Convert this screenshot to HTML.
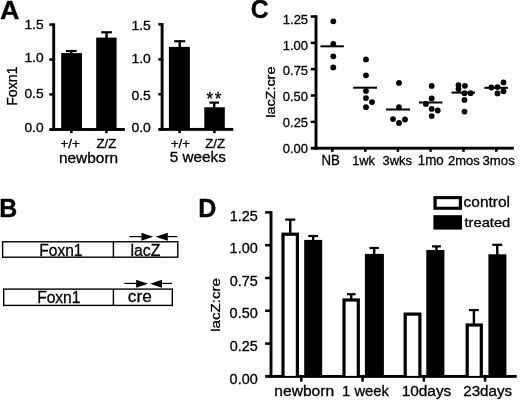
<!DOCTYPE html>
<html><head><meta charset="utf-8"><style>
html,body{margin:0;padding:0;background:#fff;width:520px;height:401px;overflow:hidden}
svg{display:block;will-change:transform}
text{font-family:"Liberation Sans",sans-serif;fill:#000;stroke:#000;stroke-width:0.3px}
</style></head><body>
<svg width="520" height="401" viewBox="0 0 520 401">
<rect width="520" height="401" fill="#fff"/>
<rect x="52.25" y="23.35" width="2.90" height="107.60" fill="#000"/>
<rect x="49.30" y="23.35" width="4.40" height="2.50" fill="#000"/>
<rect x="49.30" y="58.25" width="4.40" height="2.50" fill="#000"/>
<rect x="49.30" y="93.15" width="4.40" height="2.50" fill="#000"/>
<rect x="49.30" y="128.05" width="75.50" height="2.90" fill="#000"/>
<rect x="70.15" y="129.50" width="2.50" height="3.70" fill="#000"/>
<rect x="105.15" y="129.50" width="2.50" height="3.70" fill="#000"/>
<rect x="61.20" y="53.10" width="20.80" height="76.40" fill="#000"/>
<rect x="70.10" y="51.00" width="2.40" height="3.10" fill="#000"/>
<rect x="66.00" y="49.90" width="10.60" height="2.20" fill="#000"/>
<rect x="96.20" y="37.60" width="20.40" height="91.90" fill="#000"/>
<rect x="105.35" y="32.30" width="2.40" height="6.30" fill="#000"/>
<rect x="101.20" y="31.20" width="10.70" height="2.20" fill="#000"/>
<rect x="160.65" y="23.05" width="2.90" height="107.80" fill="#000"/>
<rect x="158.30" y="23.05" width="3.80" height="2.50" fill="#000"/>
<rect x="158.30" y="58.15" width="3.80" height="2.50" fill="#000"/>
<rect x="158.30" y="93.05" width="3.80" height="2.50" fill="#000"/>
<rect x="158.30" y="127.95" width="74.90" height="2.90" fill="#000"/>
<rect x="178.35" y="129.40" width="2.50" height="3.80" fill="#000"/>
<rect x="213.15" y="129.40" width="2.50" height="3.80" fill="#000"/>
<rect x="168.90" y="46.90" width="21.00" height="82.50" fill="#000"/>
<rect x="178.50" y="41.25" width="2.40" height="6.65" fill="#000"/>
<rect x="174.20" y="40.15" width="11.00" height="2.20" fill="#000"/>
<rect x="204.30" y="107.30" width="20.50" height="22.10" fill="#000"/>
<rect x="213.00" y="102.60" width="2.40" height="5.70" fill="#000"/>
<rect x="209.40" y="101.50" width="9.60" height="2.20" fill="#000"/>
<rect x="314.55" y="15.25" width="2.90" height="134.40" fill="#000"/>
<rect x="310.70" y="15.25" width="5.30" height="2.50" fill="#000"/>
<rect x="310.70" y="41.59" width="5.30" height="2.50" fill="#000"/>
<rect x="310.70" y="67.93" width="5.30" height="2.50" fill="#000"/>
<rect x="310.70" y="94.27" width="5.30" height="2.50" fill="#000"/>
<rect x="310.70" y="120.61" width="5.30" height="2.50" fill="#000"/>
<rect x="310.70" y="146.75" width="203.10" height="2.90" fill="#000"/>
<rect x="331.05" y="148.20" width="2.50" height="3.60" fill="#000"/>
<rect x="364.05" y="148.20" width="2.50" height="3.60" fill="#000"/>
<rect x="396.65" y="148.20" width="2.50" height="3.60" fill="#000"/>
<rect x="429.35" y="148.20" width="2.50" height="3.60" fill="#000"/>
<rect x="462.25" y="148.20" width="2.50" height="3.60" fill="#000"/>
<rect x="495.05" y="148.20" width="2.50" height="3.60" fill="#000"/>
<rect x="320.40" y="45.30" width="23.40" height="2.00" fill="#000"/>
<rect x="353.20" y="86.70" width="23.80" height="2.00" fill="#000"/>
<rect x="386.00" y="108.50" width="24.00" height="2.00" fill="#000"/>
<rect x="418.90" y="101.50" width="23.50" height="2.00" fill="#000"/>
<rect x="451.50" y="91.60" width="23.40" height="2.00" fill="#000"/>
<rect x="484.30" y="86.80" width="23.70" height="2.00" fill="#000"/>
<circle cx="333.30" cy="21.30" r="2.90" fill="#000"/>
<circle cx="333.30" cy="44.00" r="2.90" fill="#000"/>
<circle cx="333.30" cy="56.30" r="2.90" fill="#000"/>
<circle cx="333.30" cy="67.40" r="2.90" fill="#000"/>
<circle cx="366.00" cy="59.40" r="2.90" fill="#000"/>
<circle cx="366.00" cy="75.30" r="2.90" fill="#000"/>
<circle cx="366.00" cy="90.90" r="2.90" fill="#000"/>
<circle cx="366.00" cy="98.10" r="2.90" fill="#000"/>
<circle cx="366.00" cy="107.20" r="2.90" fill="#000"/>
<circle cx="372.00" cy="102.10" r="2.90" fill="#000"/>
<circle cx="399.00" cy="82.90" r="2.90" fill="#000"/>
<circle cx="399.00" cy="107.10" r="2.90" fill="#000"/>
<circle cx="399.00" cy="123.00" r="2.90" fill="#000"/>
<circle cx="393.00" cy="119.10" r="2.90" fill="#000"/>
<circle cx="405.00" cy="119.50" r="2.90" fill="#000"/>
<circle cx="431.70" cy="85.90" r="2.90" fill="#000"/>
<circle cx="431.70" cy="98.50" r="2.90" fill="#000"/>
<circle cx="431.70" cy="108.90" r="2.90" fill="#000"/>
<circle cx="431.70" cy="116.10" r="2.90" fill="#000"/>
<circle cx="425.90" cy="103.90" r="2.90" fill="#000"/>
<circle cx="437.70" cy="110.50" r="2.90" fill="#000"/>
<circle cx="458.50" cy="85.10" r="2.90" fill="#000"/>
<circle cx="464.90" cy="85.80" r="2.90" fill="#000"/>
<circle cx="458.50" cy="89.10" r="2.90" fill="#000"/>
<circle cx="464.50" cy="93.20" r="2.90" fill="#000"/>
<circle cx="470.60" cy="93.20" r="2.90" fill="#000"/>
<circle cx="464.50" cy="99.90" r="2.90" fill="#000"/>
<circle cx="464.50" cy="111.60" r="2.90" fill="#000"/>
<circle cx="491.40" cy="87.50" r="2.90" fill="#000"/>
<circle cx="497.50" cy="87.10" r="2.90" fill="#000"/>
<circle cx="503.50" cy="82.40" r="2.90" fill="#000"/>
<circle cx="503.50" cy="91.20" r="2.90" fill="#000"/>
<circle cx="497.50" cy="93.40" r="2.90" fill="#000"/>
<rect x="2.60" y="241.80" width="175.20" height="15.40" fill="none" stroke="#000" stroke-width="1.4"/>
<rect x="112.70" y="241.80" width="1.40" height="15.40" fill="#000"/>
<rect x="129.40" y="236.00" width="12.00" height="1.20" fill="#000"/>
<rect x="167.80" y="236.00" width="9.40" height="1.20" fill="#000"/>
<polygon points="141.40,232.85 153.20,236.85 141.40,240.85" fill="#000"/>
<polygon points="167.80,232.85 155.60,236.85 167.80,240.85" fill="#000"/>
<rect x="3.70" y="289.10" width="168.60" height="16.30" fill="none" stroke="#000" stroke-width="1.4"/>
<rect x="112.70" y="289.10" width="1.40" height="16.30" fill="#000"/>
<rect x="124.30" y="282.80" width="11.80" height="1.20" fill="#000"/>
<rect x="162.00" y="282.80" width="10.00" height="1.20" fill="#000"/>
<polygon points="136.10,279.65 148.00,283.65 136.10,287.65" fill="#000"/>
<polygon points="162.00,279.65 150.10,283.65 162.00,287.65" fill="#000"/>
<rect x="269.55" y="211.15" width="2.90" height="166.70" fill="#000"/>
<rect x="265.10" y="211.15" width="5.90" height="2.50" fill="#000"/>
<rect x="265.10" y="243.95" width="5.90" height="2.50" fill="#000"/>
<rect x="265.10" y="276.75" width="5.90" height="2.50" fill="#000"/>
<rect x="265.10" y="309.55" width="5.90" height="2.50" fill="#000"/>
<rect x="265.10" y="342.35" width="5.90" height="2.50" fill="#000"/>
<rect x="265.10" y="374.95" width="251.60" height="2.90" fill="#000"/>
<rect x="300.05" y="376.40" width="2.50" height="5.20" fill="#000"/>
<rect x="361.32" y="376.40" width="2.50" height="5.20" fill="#000"/>
<rect x="422.59" y="376.40" width="2.50" height="5.20" fill="#000"/>
<rect x="483.86" y="376.40" width="2.50" height="5.20" fill="#000"/>
<rect x="289.05" y="219.60" width="2.40" height="14.00" fill="#000"/>
<rect x="285.20" y="218.50" width="10.10" height="2.20" fill="#000"/>
<rect x="281.40" y="232.60" width="17.60" height="143.80" fill="#000"/>
<rect x="284.60" y="235.80" width="11.20" height="140.10" fill="#fff"/>
<rect x="350.05" y="294.20" width="2.40" height="5.20" fill="#000"/>
<rect x="347.00" y="293.10" width="8.50" height="2.20" fill="#000"/>
<rect x="342.40" y="298.40" width="17.50" height="78.00" fill="#000"/>
<rect x="345.60" y="301.60" width="11.10" height="74.30" fill="#fff"/>
<rect x="403.60" y="312.50" width="17.90" height="63.90" fill="#000"/>
<rect x="406.80" y="315.70" width="11.50" height="60.20" fill="#fff"/>
<rect x="472.70" y="310.10" width="2.40" height="14.30" fill="#000"/>
<rect x="468.90" y="309.00" width="10.00" height="2.20" fill="#000"/>
<rect x="465.60" y="323.40" width="17.30" height="53.00" fill="#000"/>
<rect x="468.80" y="326.60" width="10.90" height="49.30" fill="#fff"/>
<rect x="311.95" y="236.00" width="2.40" height="4.90" fill="#000"/>
<rect x="308.30" y="234.90" width="9.70" height="2.20" fill="#000"/>
<rect x="304.20" y="239.90" width="18.00" height="136.50" fill="#000"/>
<rect x="373.00" y="248.00" width="2.40" height="6.90" fill="#000"/>
<rect x="369.50" y="246.90" width="9.40" height="2.20" fill="#000"/>
<rect x="364.90" y="253.90" width="19.00" height="122.50" fill="#000"/>
<rect x="435.25" y="246.40" width="2.40" height="4.60" fill="#000"/>
<rect x="432.00" y="245.30" width="8.90" height="2.20" fill="#000"/>
<rect x="426.30" y="250.00" width="18.10" height="126.40" fill="#000"/>
<rect x="496.05" y="244.80" width="2.40" height="10.50" fill="#000"/>
<rect x="492.30" y="243.70" width="9.90" height="2.20" fill="#000"/>
<rect x="488.40" y="254.30" width="18.00" height="122.10" fill="#000"/>
<rect x="433.40" y="196.10" width="28.60" height="13.70" fill="#000"/>
<rect x="436.70" y="199.20" width="22.10" height="7.50" fill="#fff"/>
<rect x="433.40" y="215.20" width="28.60" height="14.40" fill="#000"/>
<text transform="translate(0.09,18.66) scale(1.0303,1)" font-size="26.18" font-weight="bold">A</text>
<text transform="translate(-0.64,217.10) scale(0.9881,1)" font-size="25.22" font-weight="bold">B</text>
<text transform="translate(250.71,18.44) scale(0.9558,1)" font-size="25.92" font-weight="bold">C</text>
<text transform="translate(198.24,217.10) scale(0.9615,1)" font-size="26.09" font-weight="bold">D</text>
<text transform="translate(24.45,29.31) scale(1.0663,1)" font-size="12.96">1.5</text>
<text transform="translate(24.45,61.77) scale(1.0663,1)" font-size="12.96">1.0</text>
<text transform="translate(24.45,98.47) scale(1.0663,1)" font-size="12.96">0.5</text>
<text transform="translate(24.45,131.77) scale(1.0663,1)" font-size="12.96">0.0</text>
<text transform="translate(131.44,29.67) scale(1.1400,1)" font-size="12.25">1.5</text>
<text transform="translate(131.44,62.83) scale(1.1400,1)" font-size="12.25">1.0</text>
<text transform="translate(131.44,99.53) scale(1.1400,1)" font-size="12.25">0.5</text>
<text transform="translate(131.44,132.23) scale(1.1400,1)" font-size="12.25">0.0</text>
<text transform="translate(60.53,147.70) scale(1.0246,1)" font-size="13.01">+/+</text>
<text transform="translate(96.50,147.60) scale(1.0086,1)" font-size="13.15">Z/Z</text>
<text transform="translate(58.92,163.36) scale(1.1000,1)" font-size="14.05">newborn</text>
<text transform="translate(170.63,147.70) scale(1.0303,1)" font-size="13.01">+/+</text>
<text transform="translate(205.20,147.60) scale(1.0086,1)" font-size="13.15">Z/Z</text>
<text transform="translate(169.79,162.06) scale(1.0881,1)" font-size="14.05">5 weeks</text>
<text transform="translate(206.46,105.12) scale(0.9375,1)" font-size="18.29">*</text>
<text transform="translate(214.76,105.12) scale(0.9375,1)" font-size="18.29">*</text>
<text transform="translate(16.65,105.84) rotate(-90) scale(0.9643,1)" font-size="14.71">Foxn1</text>
<text transform="translate(282.81,23.91) scale(0.9611,1)" font-size="13.52">1.25</text>
<text transform="translate(282.68,49.64) scale(0.9611,1)" font-size="13.52">1.00</text>
<text transform="translate(282.81,75.37) scale(0.9611,1)" font-size="13.52">0.75</text>
<text transform="translate(282.68,101.10) scale(0.9611,1)" font-size="13.52">0.50</text>
<text transform="translate(282.81,126.83) scale(0.9611,1)" font-size="13.52">0.25</text>
<text transform="translate(282.68,152.56) scale(0.9611,1)" font-size="13.52">0.00</text>
<text transform="translate(321.54,164.80) scale(0.9526,1)" font-size="13.91">NB</text>
<text transform="translate(352.17,164.80) scale(0.9796,1)" font-size="13.15">1wk</text>
<text x="382.48" y="164.67" font-size="12.97">3wks</text>
<text transform="translate(417.83,164.66) scale(0.9736,1)" font-size="13.71">1mo</text>
<text transform="translate(448.05,164.66) scale(0.9621,1)" font-size="13.52">2mos</text>
<text transform="translate(482.47,164.66) scale(0.9767,1)" font-size="13.52">3mos</text>
<text transform="translate(274.67,117.81) rotate(-90) scale(1.1114,1)" font-size="12.97">lacZ:cre</text>
<text transform="translate(39.25,255.84) scale(0.9486,1)" font-size="16.43">Foxn1</text>
<text transform="translate(130.39,255.54) scale(1.0121,1)" font-size="15.68">lacZ</text>
<text transform="translate(37.15,302.74) scale(0.9741,1)" font-size="16.00">Foxn1</text>
<text x="127.81" y="302.03" font-size="17.27">cre</text>
<text transform="translate(229.74,220.51) scale(1.0158,1)" font-size="14.23">1.25</text>
<text transform="translate(229.60,253.11) scale(1.0158,1)" font-size="14.23">1.00</text>
<text transform="translate(229.74,285.71) scale(1.0158,1)" font-size="14.23">0.75</text>
<text transform="translate(229.60,318.31) scale(1.0158,1)" font-size="14.23">0.50</text>
<text transform="translate(229.74,350.91) scale(1.0158,1)" font-size="14.23">0.25</text>
<text transform="translate(229.60,383.51) scale(1.0158,1)" font-size="14.23">0.00</text>
<text transform="translate(274.31,395.76) scale(1.1010,1)" font-size="14.19">newborn</text>
<text transform="translate(342.12,395.86) scale(1.0523,1)" font-size="14.05">1 week</text>
<text transform="translate(401.67,396.36) scale(1.0645,1)" font-size="14.47">10days</text>
<text transform="translate(463.24,396.36) scale(1.0478,1)" font-size="14.47">23days</text>
<text transform="translate(219.87,331.86) rotate(-90) scale(1.1652,1)" font-size="12.97">lacZ:cre</text>
<text transform="translate(463.58,207.46) scale(1.0992,1)" font-size="14.05">control</text>
<text transform="translate(464.51,227.06) scale(1.0892,1)" font-size="13.51">treated</text>
</svg>
</body></html>
